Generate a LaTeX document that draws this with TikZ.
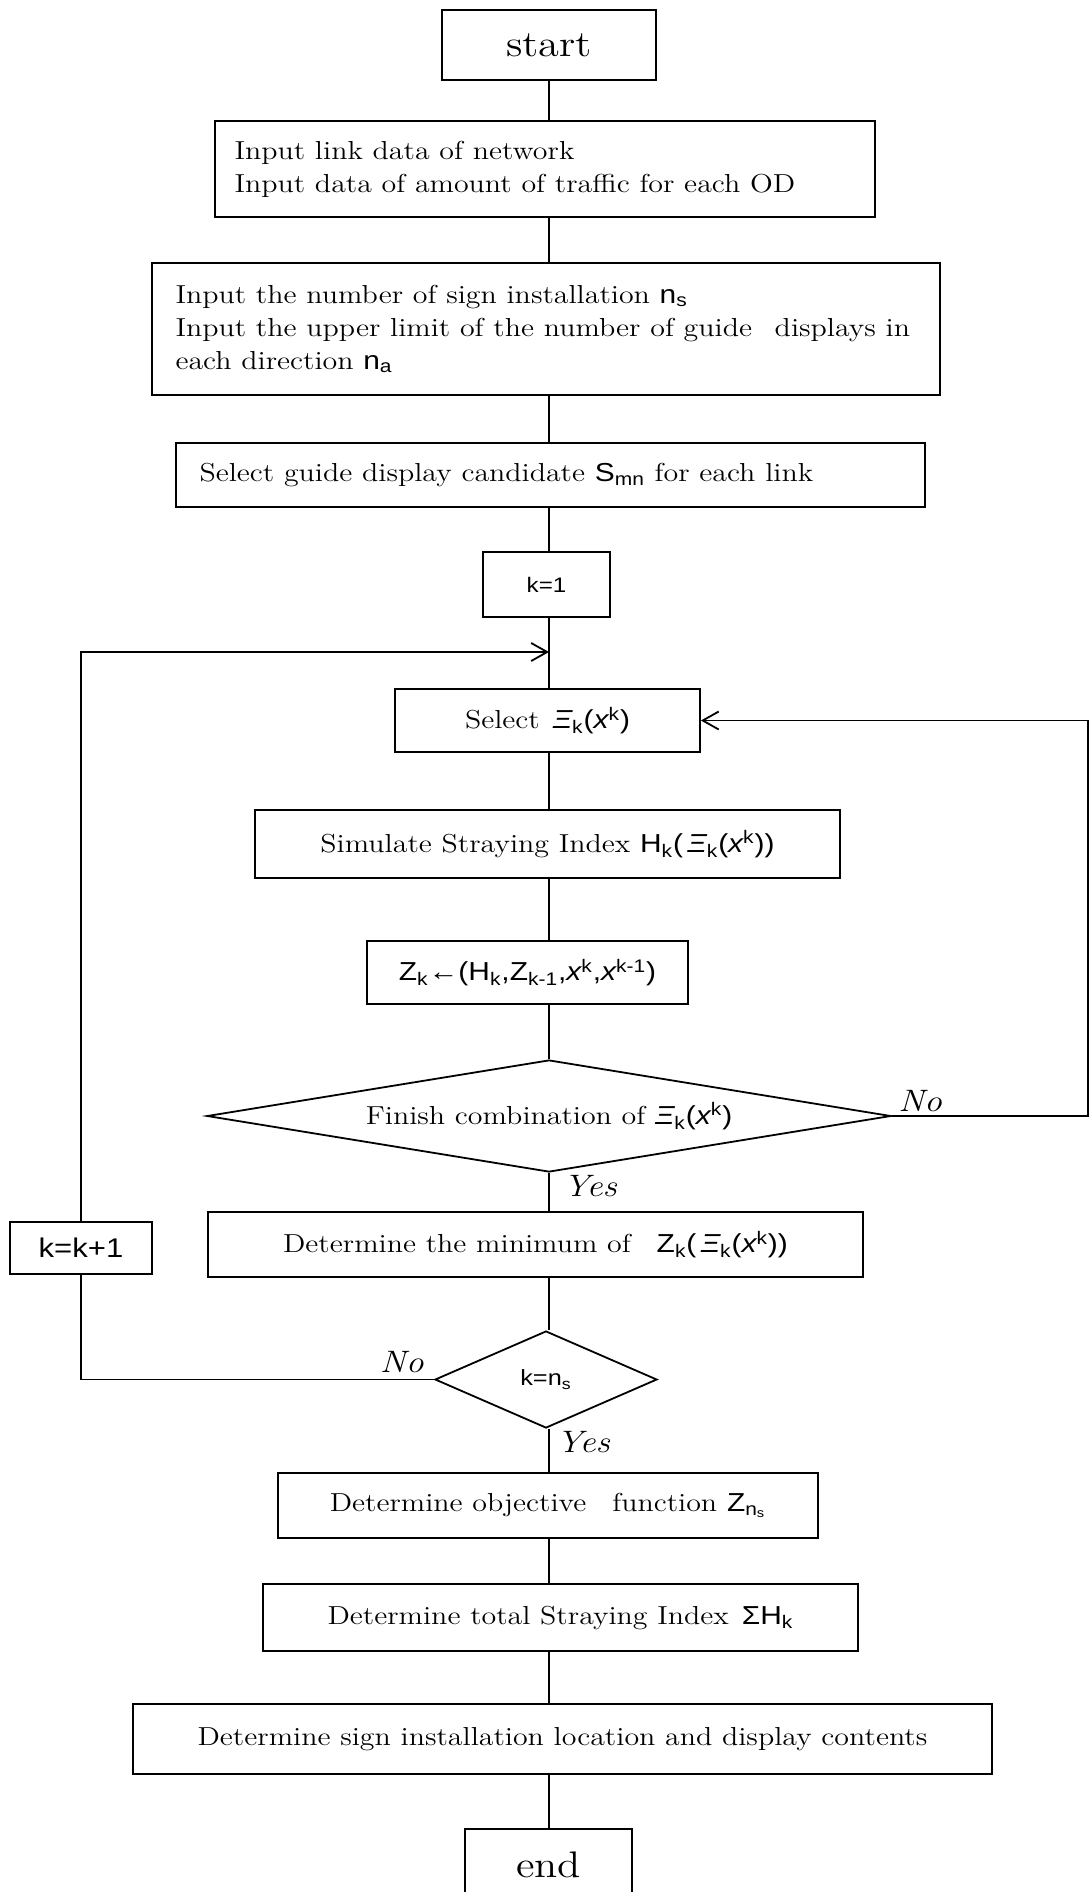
\documentclass[tikz,border=0pt]{standalone}
\usepackage{fontspec}
\setmainfont{lmroman12}[Extension=.otf, UprightFont=*-regular, ItalicFont=*-italic, BoldFont=*-bold, FakeStretch=1.15]
\newfontfamily\sansf{Liberation Sans}[FakeStretch=1.15]
\usetikzlibrary{shapes.geometric,arrows.meta}

% symbols set in a sans face
\newcommand\ssub[2]{{\sansf #1\textsubscript{#2}}}
\newcommand\XiK{{\sansf{\itshape Ξ}\textsubscript{k}({\itshape x}\textsuperscript{k})}}
\newcommand\bodyfont{\fontsize{13}{16.5}\selectfont}

\tikzset{
  box/.style={draw, line width=0.9pt, inner sep=0pt, align=center, font=\bodyfont},
  decision/.style={draw, diamond, line width=0.9pt, inner sep=0pt},
  txt/.style={inner sep=0pt, font=\bodyfont, align=left},
  flow/.style={line width=0.8pt},
  flowarrow/.style={line width=0.8pt, -{Straight Barb[length=8pt,width=9pt,line width=0.9pt]}},
  answer/.style={inner sep=0pt, font=\fontsize{15.5}{18}\selectfont\itshape},
  terminal/.style={box, font=\fontsize{18.5}{21}\selectfont}
}

\begin{document}
\begin{tikzpicture}[x=0.5pt,y=-0.5pt]
\useasboundingbox (0,0) rectangle (1090,1892);
\coordinate (spine) at (549,0);

% process boxes
\node[terminal, minimum width=107pt, minimum height=35pt] (start) at (549,45) {start};

\node[box, minimum width=330pt, minimum height=48pt] (in1) at (545,169) {};
\node[txt, anchor=west, xshift=10pt] (in1t) at (in1.west)
  {Input link data of network\\Input data of amount of traffic for each OD};

\node[box, minimum width=394pt, minimum height=66pt] (in2) at (546,329) {};
\node[txt, anchor=west, xshift=12pt] (in2t) at (in2.west)
  {Input the number of sign installation \ssub{n}{s}\\
   Input the upper limit of the number of guide\enspace\ displays in\\
   each direction \ssub{n}{a}};

\node[box, minimum width=374.5pt, minimum height=32pt] (guide) at (550.5,475) {};
\node[txt, anchor=west, xshift=12pt] (guidet) at (guide.west)
  {Select guide display candidate \ssub{S}{mn} for each link};

\node[box, minimum width=63.5pt, minimum height=32.5pt, font=\sansf\fontsize{10.5}{13}\selectfont] (k1) at (546.5,584.5) {k=1};

\node[box, minimum width=152.5pt, minimum height=31.5pt] (selx) at (547.5,720.5) {Select\enspace\XiK};

\node[box, minimum width=292.5pt, minimum height=34pt] (sim) at (547.5,844)
  {Simulate Straying Index \ssub{H}{k}{\sansf(}\,\XiK{\sansf)}};

\node[box, minimum width=160.5pt, minimum height=31.5pt] (zk) at (527.5,972.5)
  {{\sansf Z\textsubscript{k}←(H\textsubscript{k},Z\textsubscript{k-1},{\itshape x}\textsuperscript{k},{\itshape x}\textsuperscript{k-1})}};

\node[decision, minimum width=342pt, minimum height=56pt] (d1) at (549,1116) {};
\node[txt] (d1t) at (d1) {Finish combination of \XiK};

\node[box, minimum width=327.5pt, minimum height=32.5pt] (dmin) at (535.5,1244.5)
  {Determine the minimum of\quad\ssub{Z}{k}{\sansf(}\,\XiK{\sansf)}};

\node[box, minimum width=71pt, minimum height=26pt, font=\sansf\fontsize{13.5}{15}\selectfont] (kk1) at (81,1248) {k=k+1};

\node[decision, minimum width=111pt, minimum height=48.5pt] (d2) at (546,1379.5) {};
\node[txt] (d2t) at (d2) {{\sansf\fontsize{11}{13}\selectfont k=n\textsubscript{s}}};

\node[box, minimum width=270pt, minimum height=32.5pt] (obj) at (548,1505.5)
  {Determine objective\quad function {\sansf Z\textsubscript{n\textsubscript{s}}}};

\node[box, minimum width=297.5pt, minimum height=33.5pt] (tot) at (560.5,1617.5)
  {Determine total Straying Index\enspace{\sansf Σ}\ssub{H}{k}};

\node[box, minimum width=429.5pt, minimum height=35pt] (sign) at (562.5,1739)
  {Determine sign installation location and display contents};

\node[terminal, minimum width=83.5pt, minimum height=36pt] (finish) at (548.5,1865) {end};

% main vertical flow
\draw[flow] (start.south -| spine) -- (in1.north -| spine);
\draw[flow] (in1.south -| spine) -- (in2.north -| spine);
\draw[flow] (in2.south -| spine) -- (guide.north -| spine);
\draw[flow] (guide.south -| spine) -- (k1.north -| spine);
\draw[flow] (k1.south -| spine) -- (selx.north -| spine);
\draw[flow] (selx.south -| spine) -- (sim.north -| spine);
\draw[flow] (sim.south -| spine) -- (zk.north -| spine);
\draw[flow] (zk.south -| spine) -- (d1.north);
\draw[flow] (d1.south) -- (dmin.north -| spine);
\draw[flow] (dmin.south -| spine) -- (d2.north -| d1.south);
\draw[flow] (d2.south -| d1.south) -- (obj.north -| spine);
\draw[flow] (obj.south -| spine) -- (tot.north -| spine);
\draw[flow] (tot.south -| spine) -- (sign.north -| spine);
\draw[flow] (sign.south -| spine) -- (finish.north -| spine);

% inner loop: next combination
\coordinate (rightrail) at (1088,0);
\draw[flowarrow] (d1.east) -- (d1.east -| rightrail) -- (selx.east -| rightrail) -- (selx.east);

% outer loop: next k
\coordinate (loopin) at (549,652);
\draw[flow] (d2.west) -| (kk1.south);
\draw[flowarrow] (kk1.north) |- (loopin);

% branch labels
\node[answer, anchor=south west] (no1) at ([xshift=3pt,yshift=2pt]d1.east) {No};
\node[answer, anchor=north west] (yes1) at ([xshift=7pt,yshift=-1pt]d1.south) {Yes};
\node[answer, anchor=south east] (no2) at ([xshift=-5pt,yshift=3pt]d2.west) {No};
\node[answer, anchor=north west] (yes2) at ([xshift=5pt,yshift=-1pt]d2.south) {Yes};
\end{tikzpicture}
\end{document}
